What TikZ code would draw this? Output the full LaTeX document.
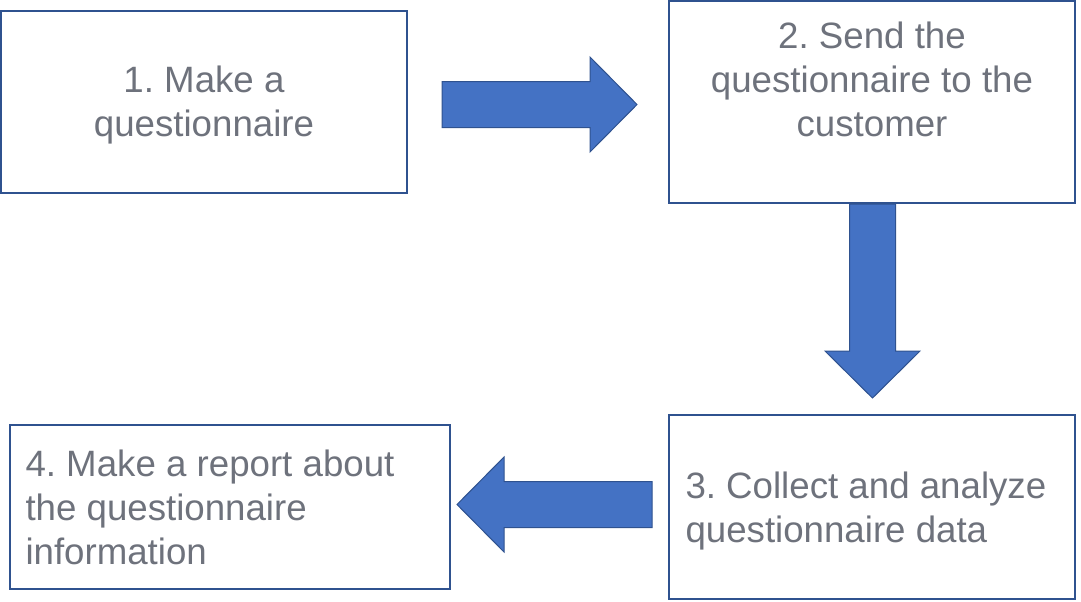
\documentclass[tikz,border=0pt]{standalone}
\usepackage{fontspec}
\setmainfont{Liberation Sans}
\usetikzlibrary{calc}
\definecolor{boxblue}{RGB}{47,82,143}
\definecolor{arrowblue}{RGB}{68,114,196}
\definecolor{textgrey}{RGB}{110,114,124}
\frenchspacing

\tikzset{every picture/.style={line width=0.75pt}}

\begin{document}
\begin{tikzpicture}[x=0.75pt,y=0.75pt,yscale=-1,xscale=1,
    stepbox/.style={draw=boxblue,line width=1.5pt,inner sep=0pt,minimum width=304.5pt},
    steptext/.style={text=textgrey,font=\fontsize{27.5}{33}\selectfont,inner sep=0pt},
    blockarrow/.style={draw=boxblue,fill=arrowblue,line width=0.75pt,line join=miter}]
\useasboundingbox (0,0) rectangle (1081,601);

%Shape: Rectangle [step 1]
\node [stepbox,minimum height=136.5pt] (q1) at (204,102) {};
%Shape: Rectangle [step 2]
\node [stepbox,minimum height=151.5pt] (q2) at (872,102) {};
%Shape: Rectangle [step 3]
\node [stepbox,minimum height=138pt] (q3) at (872,507) {};
%Shape: Rectangle [step 4]
\node [stepbox,minimum width=330pt,minimum height=123pt] (q4) at (230,507) {};

% Text Node
\node [steptext,align=center] (q1t) at ($(q1)+(0,3)$) {1. Make a\\questionnaire};
% Text Node
\node [steptext,align=center] (q2t) at ($(q2)+(0,-23)$) {2. Send the\\questionnaire to the\\customer};
% Text Node
\node [steptext,align=left,anchor=west] (q3t) at ($(q3.west)+(17,4)$) {3. Collect and analyze\\questionnaire data};
% Text Node
\node [steptext,align=left,anchor=west] (q4t) at ($(q4.west)+(16,0)$) {4. Make a report about\\the questionnaire\\information};

%Block Arrows
\coordinate (a1) at ($(q1.east)+(34,2.5)$);
\coordinate (a2) at ($(q2.south)+(0.5,0)$);
\coordinate (a3) at ($(q3.west)+(-16,-2.5)$);
\draw [blockarrow] ($(a1)+(0,-23)$) -- ++(148,0) -- ++(0,-24.5) -- ($(a1)+(195,0)$) -- ++(-47,47.5) -- ++(0,-24.5) -- ++(-148,0) -- cycle;
\draw [blockarrow] ($(a2)+(-23,0)$) -- ++(0,147) -- ++(-24.5,0) -- ($(a2)+(0,194)$) -- ++(47.5,-47) -- ++(-24.5,0) -- ++(0,-147) -- cycle;
\draw [blockarrow] ($(a3)+(0,-23)$) -- ++(-148,0) -- ++(0,-24.5) -- ($(a3)+(-195,0)$) -- ++(47,47.5) -- ++(0,-24.5) -- ++(148,0) -- cycle;

\end{tikzpicture}
\end{document}
